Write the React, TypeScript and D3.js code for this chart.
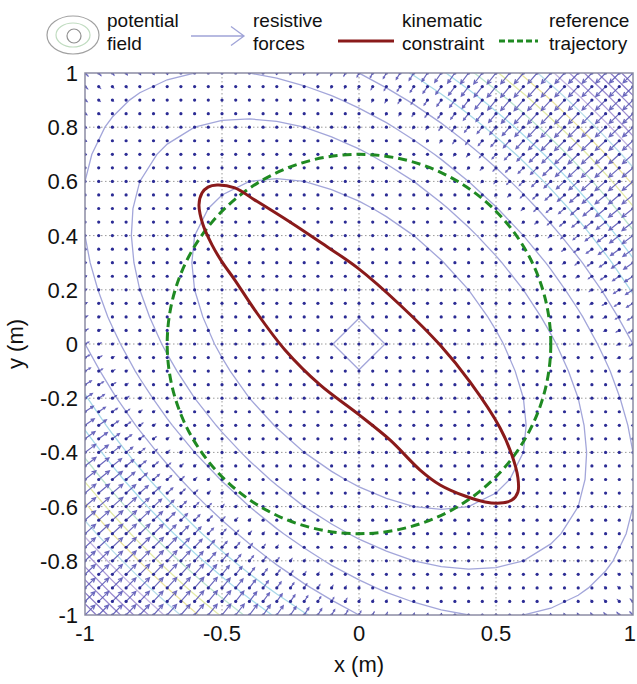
import React, { useEffect, useRef } from 'react';
import * as d3 from 'd3';

// Canvas and plot box
const W = 637;
const H = 684;
const margin = { top: 73, right: 4, bottom: 69, left: 85 };
const plotW = W - margin.left - margin.right;
const plotH = H - margin.top - margin.bottom;

// Axis ticks
const xTicks = [-1, -0.5, 0, 0.5, 1];
const yTicks = [-1, -0.8, -0.6, -0.4, -0.2, 0, 0.2, 0.4, 0.6, 0.8, 1];

// Potential field V = P (x^2 + y^2) + 2 Q x y, sampled on a coarse grid
const potP = 1;
const potQ = 0.5;
const contourStep = 0.1;
const contourLevels = [0.0095, 0.28, 0.52, 0.76, 1.0, 1.22, 1.42, 1.6, 1.77, 1.93, 2.08, 2.22, 2.36, 2.5, 2.63, 2.76, 2.88];
const contourColors = ['#a3a6da', '#a3a6da', '#a3a6da', '#a3a6da', '#a3a6da', '#a8d8e8', '#a8dcec', '#bce4d0', '#e2eaa8', '#ece4a0', '#b8ddea', '#c4b6e2', '#a898d6', '#9c8cd0', '#9486cc', '#8c7ec8', '#8a7cc6'];

// Resistive forces (quiver): direction -grad V, length ramps up between two potential levels
const quiverStep = 0.05;
const quiverMaxLen = 14;
const forceOnset = 0.6;
const forceFull = 1.7;

// Kinematic constraint
const kinX = [-0.518, -0.453, -0.38, -0.252, -0.142, -0.004, 0.15, 0.296, 0.405, 0.515, 0.558, 0.58, 0.58, 0.558, 0.515, 0.46, 0.387, 0.296, 0.223, 0.113, -0.004, -0.142, -0.27, -0.38, -0.453, -0.5, -0.536, -0.569, -0.584, -0.573, -0.551];
const kinY = [0.587, 0.576, 0.531, 0.45, 0.376, 0.28, 0.144, -0.004, -0.14, -0.31, -0.41, -0.494, -0.546, -0.576, -0.587, -0.583, -0.561, -0.52, -0.465, -0.354, -0.258, -0.151, -0.022, 0.125, 0.236, 0.303, 0.365, 0.439, 0.513, 0.557, 0.579];

// Reference trajectory radius
const refRadius = 0.7;

const legendItems = [
  { line1: 'potential', line2: 'field', x: 107 },
  { line1: 'resistive', line2: 'forces', x: 253 },
  { line1: 'kinematic', line2: 'constraint', x: 402 },
  { line1: 'reference', line2: 'trajectory', x: 549 },
];

function App() {
  const ref = useRef<SVGSVGElement>(null);

  useEffect(() => {
    const svg = d3.select(ref.current).html('');
    const font = 'Liberation Sans, Arial, sans-serif';

    const x = d3.scaleLinear().domain([-1, 1]).range([margin.left, margin.left + plotW]);
    const y = d3.scaleLinear().domain([-1, 1]).range([margin.top + plotH, margin.top]);
    const pot = (px: number, py: number) => potP * (px * px + py * py) + 2 * potQ * px * py;

    svg.append('rect').attr('width', W).attr('height', H).attr('fill', '#fff');

    svg.append('clipPath').attr('id', 'plotclip')
      .append('rect')
      .attr('x', margin.left).attr('y', margin.top)
      .attr('width', plotW).attr('height', plotH);

    const plot = svg.append('g').attr('clip-path', 'url(#plotclip)');

    // Grid
    plot.append('g').selectAll('line').data(xTicks.slice(1, -1)).enter().append('line')
      .attr('x1', (d) => x(d)).attr('x2', (d) => x(d))
      .attr('y1', margin.top).attr('y2', margin.top + plotH)
      .attr('stroke', '#9a9a9a').attr('stroke-width', 1).attr('stroke-dasharray', '1.5,2.5');
    plot.append('g').selectAll('line').data(yTicks.slice(1, -1)).enter().append('line')
      .attr('y1', (d) => y(d)).attr('y2', (d) => y(d))
      .attr('x1', margin.left).attr('x2', margin.left + plotW)
      .attr('stroke', '#9a9a9a').attr('stroke-width', 1).attr('stroke-dasharray', '1.5,2.5');

    // Potential contours
    const n = Math.round(2 / contourStep) + 1;
    const values: number[] = [];
    for (let j = 0; j < n; j++) {
      for (let i = 0; i < n; i++) {
        values.push(pot(-1 + i * contourStep, 1 - j * contourStep));
      }
    }
    const contours = d3.contours().size([n, n]).thresholds(contourLevels)(values);
    const path = d3.geoPath(d3.geoTransform({
      point(cx: number, cy: number) {
        this.stream.point(x(-1 + (cx - 0.5) * contourStep), y(1 - (cy - 0.5) * contourStep));
      },
    }));
    plot.append('g').selectAll('path').data(contours).enter().append('path')
      .attr('d', (d) => path(d as any))
      .attr('fill', 'none')
      .attr('stroke', (d, i) => contourColors[i])
      .attr('stroke-width', 1.3);

    // Quiver of resistive forces
    const pts: { gx: number; gy: number; dx: number; dy: number }[] = [];
    const m = Math.round(2 / quiverStep) + 1;
    for (let i = 0; i < m; i++) {
      for (let j = 0; j < m; j++) {
        const gx = -1 + i * quiverStep;
        const gy = -1 + j * quiverStep;
        const v = pot(gx, gy);
        const ux = -(2 * potP * gx + 2 * potQ * gy);
        const uy = -(2 * potP * gy + 2 * potQ * gx);
        const g = Math.hypot(ux, uy) || 1;
        let t = (v - forceOnset) / (forceFull - forceOnset);
        t = Math.max(0, Math.min(1, t));
        const len = quiverMaxLen * t * t * (3 - 2 * t);
        pts.push({ gx, gy, dx: (ux / g) * len, dy: -(uy / g) * len });
      }
    }
    const arrowPath = (d: { gx: number; gy: number; dx: number; dy: number }) => {
      const x0 = x(d.gx), y0 = y(d.gy);
      const x1 = x0 + d.dx, y1 = y0 + d.dy;
      const len = Math.hypot(d.dx, d.dy);
      if (len < 1) return '';
      const ang = Math.atan2(d.dy, d.dx);
      const h = len * 0.33;
      const a1 = ang + Math.PI - 0.45, a2 = ang + Math.PI + 0.45;
      return `M${x0},${y0}L${x1},${y1}M${x1 + h * Math.cos(a1)},${y1 + h * Math.sin(a1)}L${x1},${y1}L${x1 + h * Math.cos(a2)},${y1 + h * Math.sin(a2)}`;
    };
    plot.append('g').selectAll('path').data(pts).enter().append('path')
      .attr('d', arrowPath)
      .attr('fill', 'none')
      .attr('stroke', '#5a56b6')
      .attr('stroke-width', 1.2)
      .attr('opacity', 0.9);
    plot.append('g').selectAll('circle').data(pts).enter().append('circle')
      .attr('cx', (d) => x(d.gx)).attr('cy', (d) => y(d.gy))
      .attr('r', 1.6)
      .attr('fill', '#2b2b94');

    // Reference trajectory
    plot.append('ellipse')
      .attr('cx', x(0)).attr('cy', y(0))
      .attr('rx', x(refRadius) - x(0)).attr('ry', y(0) - y(refRadius))
      .attr('fill', 'none')
      .attr('stroke', '#1f8a22').attr('stroke-width', 3)
      .attr('stroke-dasharray', '9,5');

    // Kinematic constraint
    const kinPts = kinX.map((v, i) => [v, kinY[i]] as [number, number]);
    const line = d3.line<[number, number]>().x((d) => x(d[0])).y((d) => y(d[1])).curve(d3.curveCatmullRomClosed);
    plot.append('path')
      .attr('d', line(kinPts))
      .attr('fill', 'none')
      .attr('stroke', '#8a1a1a').attr('stroke-width', 3);

    // Box
    svg.append('rect')
      .attr('x', margin.left).attr('y', margin.top)
      .attr('width', plotW).attr('height', plotH)
      .attr('fill', 'none').attr('stroke', '#8c8ca4').attr('stroke-width', 1.5);

    // Tick labels
    svg.append('g').selectAll('text').data(yTicks).enter().append('text')
      .attr('x', margin.left - 7).attr('y', (d) => y(d) + 8)
      .attr('text-anchor', 'end')
      .attr('font-family', font).attr('font-size', 22).attr('fill', '#111')
      .text((d) => String(d));
    svg.append('g').selectAll('text').data(xTicks).enter().append('text')
      .attr('x', (d) => (d === 1 ? W - 1 : x(d)))
      .attr('y', 641)
      .attr('text-anchor', (d) => (d === 1 ? 'end' : 'middle'))
      .attr('font-family', font).attr('font-size', 22).attr('fill', '#111')
      .text((d) => String(d));

    // Axis titles
    svg.append('text')
      .attr('x', x(0)).attr('y', 672)
      .attr('text-anchor', 'middle')
      .attr('font-family', font).attr('font-size', 22).attr('fill', '#111')
      .text('x (m)');
    svg.append('text')
      .attr('transform', `translate(23,${y(0)}) rotate(-90)`)
      .attr('text-anchor', 'middle')
      .attr('font-family', font).attr('font-size', 22).attr('fill', '#111')
      .text('y (m)');

    // Legend
    const lg = svg.append('g');
    lg.append('ellipse').attr('cx', 73).attr('cy', 35).attr('rx', 26).attr('ry', 19)
      .attr('fill', 'none').attr('stroke', '#a0a0a0').attr('stroke-width', 1.2);
    lg.append('ellipse').attr('cx', 73).attr('cy', 35).attr('rx', 17).attr('ry', 12)
      .attr('fill', 'none').attr('stroke', '#c0dcc0').attr('stroke-width', 1.2);
    lg.append('ellipse').attr('cx', 74).attr('cy', 36).attr('rx', 7).attr('ry', 7)
      .attr('fill', 'none').attr('stroke', '#909090').attr('stroke-width', 1.2);
    lg.append('path').attr('d', 'M191,36L244,36M231,26.5L244,36L231,45.5')
      .attr('fill', 'none').attr('stroke', '#a0a4d8').attr('stroke-width', 1.3);
    lg.append('line').attr('x1', 338).attr('x2', 394).attr('y1', 41).attr('y2', 41)
      .attr('stroke', '#8a1a1a').attr('stroke-width', 3);
    lg.append('line').attr('x1', 499).attr('x2', 538).attr('y1', 41).attr('y2', 41)
      .attr('stroke', '#1f8a22').attr('stroke-width', 3).attr('stroke-dasharray', '6,3');
    legendItems.forEach((it) => {
      lg.append('text').attr('x', it.x).attr('y', 27)
        .attr('font-family', font).attr('font-size', 19).attr('fill', '#111').text(it.line1);
      lg.append('text').attr('x', it.x).attr('y', 50)
        .attr('font-family', font).attr('font-size', 19).attr('fill', '#111').text(it.line2);
    });
  }, []);

  return (
    <svg ref={ref} width={W} height={H} style={{ position: 'absolute', left: 0, top: 0 }}></svg>
  );
}

export default App;
